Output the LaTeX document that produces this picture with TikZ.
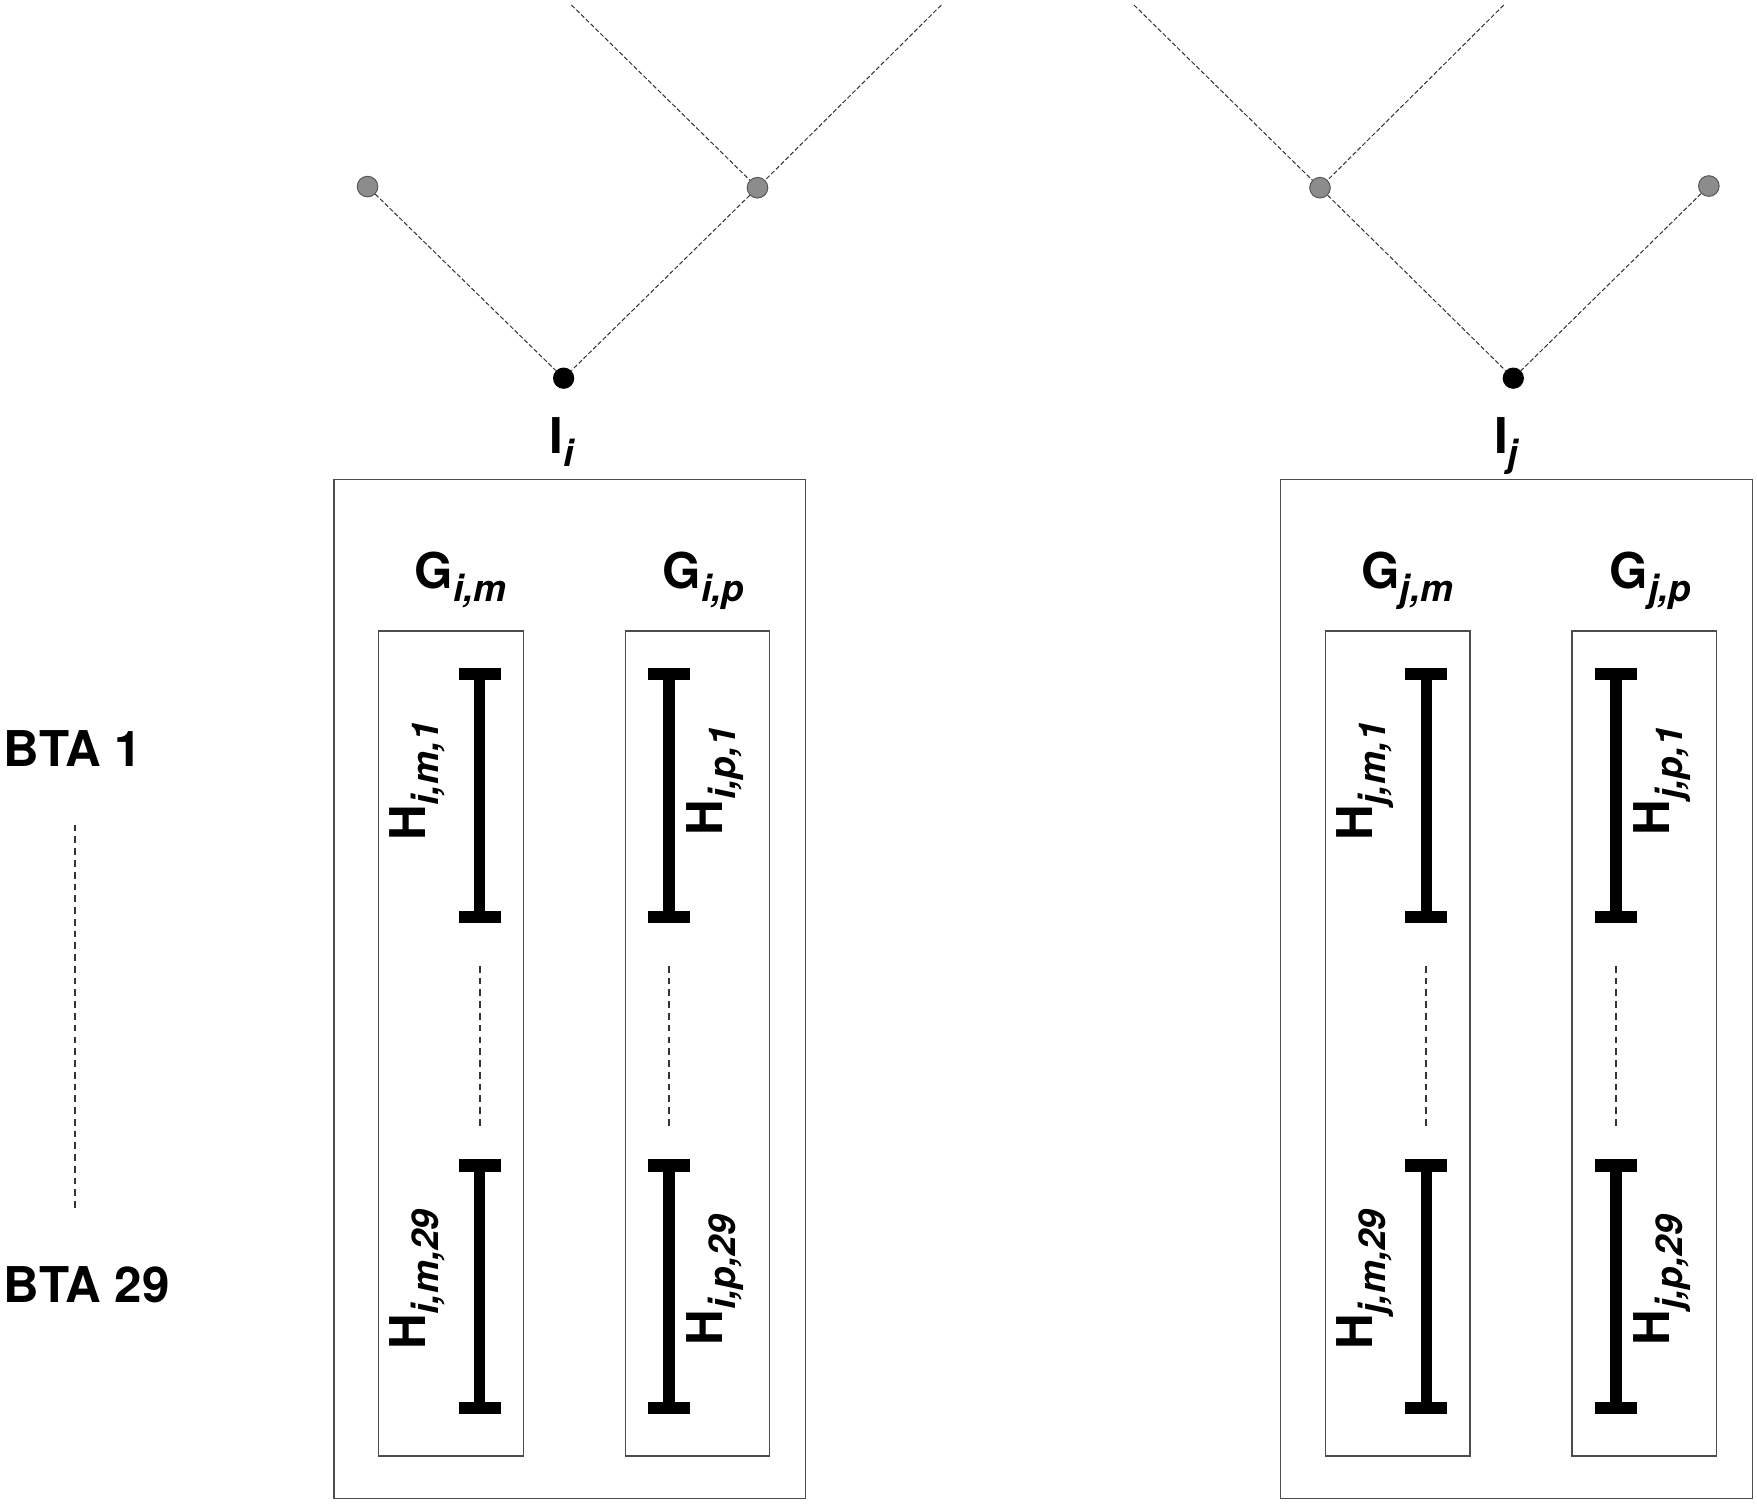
\documentclass[tikz,border=0pt]{standalone}
\usepackage{fontspec}
\setmainfont{TeX Gyre Heros}
\tikzset{
  boxnode/.style={draw=black!70, line width=1.2pt, inner sep=0pt, rectangle},
  treeline/.style={draw=black!80, line width=0.9pt, dash pattern=on 4pt off 2pt},
  dotline/.style={draw=black!80, line width=1.8pt, dash pattern=on 6pt off 4.5pt},
  graynode/.style={circle, fill=black!45, draw=black!65, line width=0.9pt, minimum size=18.4pt, inner sep=0pt},
  blacknode/.style={circle, fill=black, minimum size=19pt, inner sep=0pt},
  lbl/.style={inner sep=0pt, anchor=base},
  hlbl/.style={inner sep=0pt, anchor=base, rotate=90},
  beampart/.style={fill=black}
}
\newcommand{\mfs}{\fontsize{44}{48}\selectfont\bfseries}
\newcommand{\sfs}{\fontsize{33}{36}\selectfont\bfseries\itshape}
\newcommand{\LB}[2]{{\mfs #1}\raisebox{-11.5pt}{\sfs #2}}
\newcommand{\IBeam}[4]{%
  \coordinate (#1t) at (#2,#3);
  \coordinate (#1b) at (#2,#4);
  \fill[beampart] (#2-18.75,#3-5.65) rectangle (#2+18.75,#3+5.65);
  \fill[beampart] (#2-18.75,#4-5.65) rectangle (#2+18.75,#4+5.65);
  \fill[beampart] (#2-5.25,#3) rectangle (#2+5.25,#4);
}
\newcommand{\Group}[3]{%
  \node[boxnode, minimum width=421pt, minimum height=909.5pt] (#1box) at (#2+210.5,882.75) {};
  \node[lbl] (#1Gm) at (#2+113,525) {\LB{G}{#3,m}};
  \node[lbl] (#1Gp) at (#2+330,525) {\LB{G}{#3,p}};
  \node[boxnode, minimum width=129pt, minimum height=736.5pt] (#1inm) at (#2+104.5,931.25) {};
  \node[boxnode, minimum width=129pt, minimum height=736.5pt] (#1inp) at (#2+324.5,931.25) {};
  \IBeam{#1ma}{#2+130}{601.5}{818.4}
  \IBeam{#1mb}{#2+130}{1040}{1256.5}
  \IBeam{#1pa}{#2+299}{601.5}{818.4}
  \IBeam{#1pb}{#2+299}{1040}{1256.5}
  \coordinate (#1mdA) at (#2+130,862);
  \coordinate (#1mdB) at (#2+130,1007);
  \coordinate (#1pdA) at (#2+299,862);
  \coordinate (#1pdB) at (#2+299,1007);
  \draw[dotline] (#1mdA) -- (#1mdB);
  \draw[dotline] (#1pdA) -- (#1pdB);
  \node[hlbl] (#1Hma) at (#2+82,697) {\LB{H}{#3,m,1}};
  \node[hlbl] (#1Hpa) at (#2+347,696.5) {\LB{H}{#3,p,1}};
  \node[hlbl] (#1Hmb) at (#2+82,1142) {\LB{H}{#3,m,29}};
  \node[hlbl] (#1Hpb) at (#2+347,1142.5) {\LB{H}{#3,p,29}};
}
\begin{document}
\begin{tikzpicture}[x=1pt,y=-1pt]
  \useasboundingbox (0,0) rectangle (1568,1347.5);
  % tree
  \node[graynode] (gL) at (328,166.5) {};
  \node[graynode] (gLm) at (676,167.5) {};
  \node[graynode] (gRm) at (1178,167.5) {};
  \node[graynode] (gR) at (1525,166) {};
  \node[blacknode] (bi) at (503,337.5) {};
  \node[blacknode] (bj) at (1350.5,337.5) {};
  \coordinate (tA) at (510,4.5);
  \coordinate (tB) at (840,4.5);
  \coordinate (tC) at (1012,4.5);
  \coordinate (tD) at (1342,4.5);
  \draw[treeline] (tA) -- (gLm);
  \draw[treeline] (tB) -- (gLm);
  \draw[treeline] (gL) -- (bi);
  \draw[treeline] (gLm) -- (bi);
  \draw[treeline] (tC) -- (gRm);
  \draw[treeline] (tD) -- (gRm);
  \draw[treeline] (gRm) -- (bj);
  \draw[treeline] (gR) -- (bj);
  \node[lbl] (Ii) at (501,404.6) {\LB{I}{i}};
  \node[lbl] (Ij) at (1344,404.6) {\LB{I}{j}};
  % BTA labels
  \node[inner sep=0pt, anchor=base west] (bta1) at (3.3,684) {\mfs BTA 1};
  \node[inner sep=0pt, anchor=base west] (bta29) at (3.3,1162.5) {\mfs BTA 29};
  \coordinate (btaA) at (66.6,736);
  \coordinate (btaB) at (66.6,1081);
  \draw[dotline] (btaA) -- (btaB);
  % groups
  \Group{L}{298}{i}
  \Group{R}{1143}{j}
\end{tikzpicture}
\end{document}
